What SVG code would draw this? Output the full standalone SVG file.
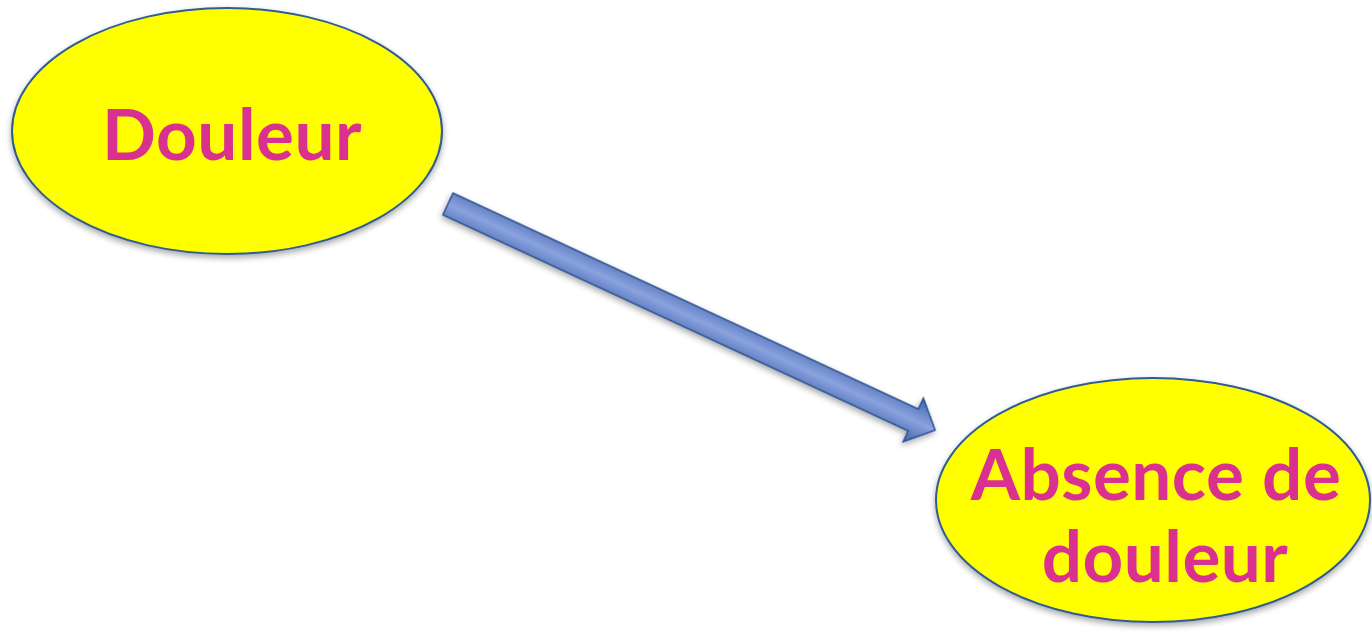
<svg xmlns="http://www.w3.org/2000/svg" width="1372" height="632" viewBox="0 0 1372 632">
  <style>
    .node { fill: #ffff00; stroke: #2f5b95; stroke-width: 2; }
    .label { font-family: Lato, "Open Sans", "Liberation Sans", sans-serif; font-weight: bold; font-size: 71px; fill: #da3191; text-anchor: middle; letter-spacing: 0.5px; }
  </style>
  <defs>
    <linearGradient id="shaftGrad" x1="0" y1="0" x2="0" y2="1">
      <stop offset="0" stop-color="#3f62ad"/>
      <stop offset="0.5" stop-color="#8aa3de"/>
      <stop offset="1" stop-color="#3f62ad"/>
    </linearGradient>
    <filter id="shadow" x="-10%" y="-10%" width="120%" height="130%">
      <feGaussianBlur in="SourceAlpha" stdDeviation="3"/>
      <feOffset dx="0" dy="3" result="b"/>
      <feComponentTransfer><feFuncA type="linear" slope="0.35"/></feComponentTransfer>
      <feMerge><feMergeNode/><feMergeNode in="SourceGraphic"/></feMerge>
    </filter>
  </defs>
  <rect width="1372" height="632" fill="#ffffff"/>
  <g id="connectors">
    <g transform="translate(448,204) rotate(24.9)" filter="url(#shadow)">
      <path d="M0,-12 L513,-12 L513,-24 L537,0 L513,24 L513,12 L0,12 Z" fill="url(#shaftGrad)" stroke="#2a4f8f" stroke-width="1.5" stroke-linejoin="miter"/>
    </g>
  </g>
  <g id="node-douleur">
    <ellipse class="node" cx="227" cy="131" rx="215" ry="123" filter="url(#shadow)"/>
    <text class="label" x="232" y="160">Douleur</text>
  </g>
  <g id="node-absence">
    <ellipse class="node" cx="1153" cy="500" rx="217" ry="122" filter="url(#shadow)"/>
    <text class="label" x="1156" y="500">Absence de</text>
    <text class="label" x="1165" y="582">douleur</text>
  </g>
</svg>
